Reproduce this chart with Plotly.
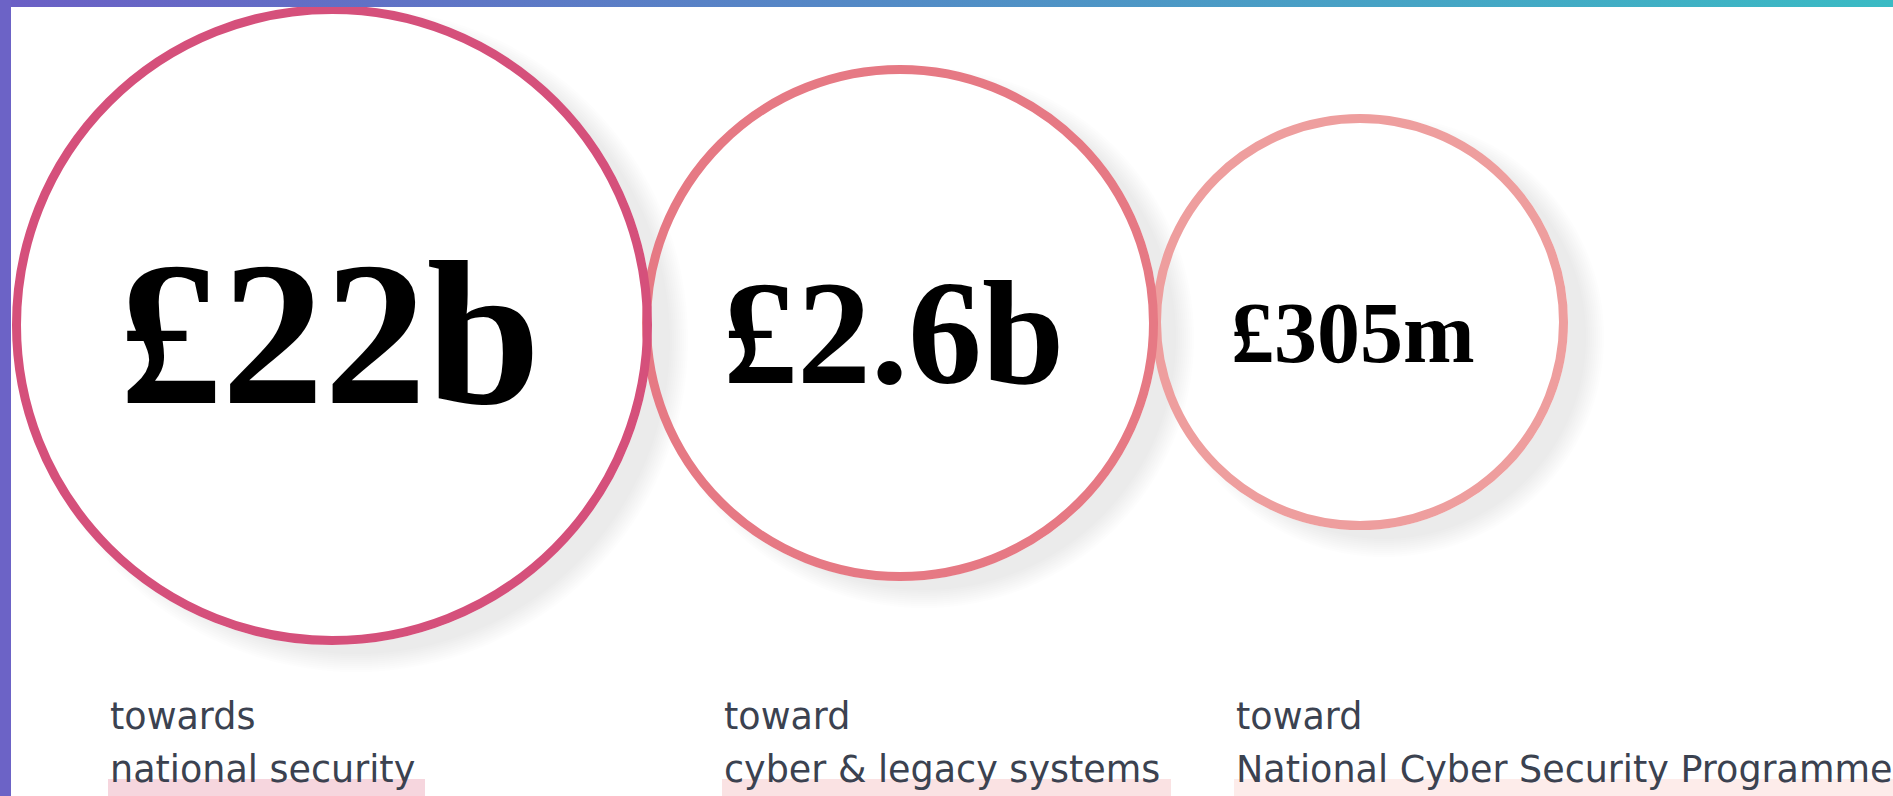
import plotly.graph_objects as go

# ---------------- data ----------------
amounts_gbp = [22e9, 2.6e9, 305e6]
caption_line1 = ["towards", "toward", "toward"]
caption_line2 = ["national security", "cyber & legacy systems", "National Cyber Security Programme"]

# ---------------- layout / style constants ----------------
W, H = 1893, 796
circle_cx = [332, 900, 1360]
circle_cy = [325, 323, 322]
circle_r_outer = [320, 258, 208]
stroke_w = 9
stroke_colors = ["#d5507b", "#e67984", "#ee9e9e"]
number_sizes = [205, 148, 86]
number_cx = [330, 893, 1353]
number_cy = 333
caption_x = [108, 722, 1234]
caption_y1 = 716
caption_y2 = 769
caption_size = 36.5
highlight_x1 = [425, 1171, 1893]
highlight_colors = ["#f6d6de", "#fae2e3", "#fdecea"]
highlight_top = 779
text_color = "#3b4250"


def fmt_amount(v):
    if v >= 1e9:
        b = v / 1e9
        s = f"{b:.1f}".rstrip("0").rstrip(".")
        return f"£{s}b"
    m = v / 1e6
    return f"£{m:.0f}m"


amount_labels = [fmt_amount(v) for v in amounts_gbp]

fig = go.Figure()
shapes = []

# draw in reverse order so that the larger circle's shadow lies over the next one
order = [2, 1, 0]
for i in order:
    cx, cy, R = circle_cx[i], circle_cy[i], circle_r_outer[i]
    # soft shadow approximation
    sx, sy = cx + 24, cy + 15
    for k in range(-6, 14, 2):
        rr = R + k
        shapes.append(dict(type="circle", xref="x", yref="y",
                           x0=sx - rr, x1=sx + rr, y0=sy - rr, y1=sy + rr,
                           fillcolor="rgba(125,128,132,0.016)", line=dict(width=0),
                           layer="below"))
    # white disc
    shapes.append(dict(type="circle", xref="x", yref="y",
                       x0=cx - R, x1=cx + R, y0=cy - R, y1=cy + R,
                       fillcolor="white", line=dict(width=0), layer="below"))

# outlines on top
for i in order:
    cx, cy, R = circle_cx[i], circle_cy[i], circle_r_outer[i]
    r = R - stroke_w / 2
    shapes.append(dict(type="circle", xref="x", yref="y",
                       x0=cx - r, x1=cx + r, y0=cy - r, y1=cy + r,
                       fillcolor="rgba(0,0,0,0)",
                       line=dict(color=stroke_colors[i], width=stroke_w),
                       layer="below"))

# caption highlight bars
for i in range(3):
    shapes.append(dict(type="rect", xref="x", yref="y",
                       x0=caption_x[i], x1=highlight_x1[i],
                       y0=highlight_top, y1=H,
                       fillcolor=highlight_colors[i], line=dict(width=0),
                       layer="below"))

# left purple strip
shapes.append(dict(type="rect", xref="x", yref="y", x0=0, x1=11, y0=0, y1=H,
                   fillcolor="#6c63c6", line=dict(width=0), layer="above"))

# top gradient bar
fig.add_trace(go.Scatter(
    x=[0, W, W, 0, 0], y=[0, 0, 7, 7, 0], mode="lines", fill="toself",
    line=dict(width=0), hoverinfo="skip", showlegend=False,
    fillgradient=dict(type="horizontal",
                      colorscale=[[0, "#6b5fc5"], [0.45, "#5489c6"], [1, "#3abbc4"]]),
))

annotations = []
for i in range(3):
    annotations.append(dict(x=number_cx[i], y=number_cy, xref="x", yref="y",
                            text=f"<b>{amount_labels[i]}</b>", showarrow=False,
                            xanchor="center", yanchor="middle",
                            font=dict(family="Liberation Serif", size=number_sizes[i],
                                      color="#000000")))
    annotations.append(dict(x=caption_x[i], y=caption_y1, xref="x", yref="y",
                            text=caption_line1[i], showarrow=False,
                            xanchor="left", yanchor="middle",
                            font=dict(family="DejaVu Sans", size=caption_size, color=text_color)))
    annotations.append(dict(x=caption_x[i], y=caption_y2, xref="x", yref="y",
                            text=caption_line2[i], showarrow=False,
                            xanchor="left", yanchor="middle",
                            font=dict(family="DejaVu Sans", size=caption_size, color=text_color)))

fig.update_layout(
    width=W, height=H,
    margin=dict(l=0, r=0, t=0, b=0),
    paper_bgcolor="white", plot_bgcolor="white",
    xaxis=dict(range=[0, W], visible=False, fixedrange=True),
    yaxis=dict(range=[H, 0], visible=False, fixedrange=True),
    shapes=shapes, annotations=annotations, showlegend=False,
)

fig.write_html("out.html", config={"displayModeBar": False},
               post_script="document.body.style.margin='0';"
                           "document.documentElement.style.overflow='hidden';")
